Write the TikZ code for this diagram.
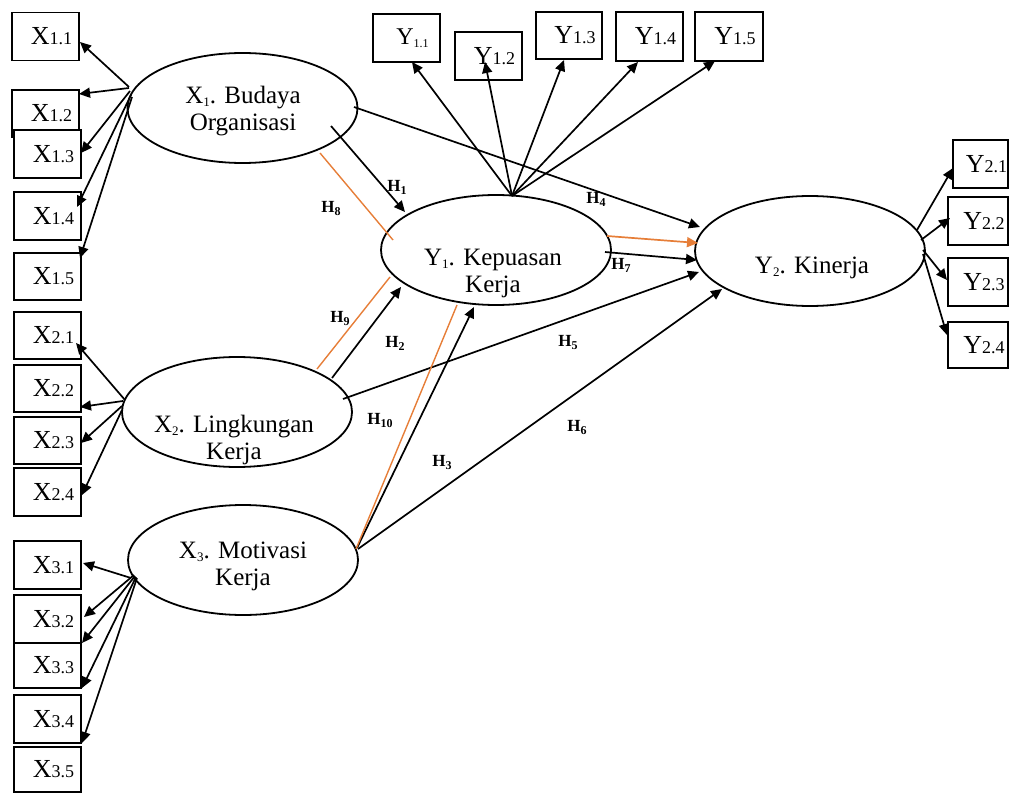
\documentclass[tikz,border=0pt]{standalone}
\usepackage{fontspec}
\setmainfont{Liberation Serif}
\usetikzlibrary{arrows.meta,calc,shapes.geometric}
\definecolor{pathorange}{RGB}{230,126,56}
\newcommand\bl[2]{{\fontsize{26}{26}\selectfont #1}{\fontsize{18}{18}\selectfont #2}}
\newcommand\blsub[2]{{\fontsize{24}{24}\selectfont #1}\raisebox{-3pt}{\fontsize{12}{12}\selectfont #2}}
\newcommand\ellsub[1]{\raisebox{-3pt}{\fontsize{13}{13}\selectfont #1}}
\newcommand\hsub[1]{\raisebox{-3pt}{\fontsize{12}{12}\selectfont\bfseries #1}}
\begin{document}
\begin{tikzpicture}[x=1pt,y=-1pt,
  ind/.style={draw, line width=1.8pt, fill=white, minimum width=67pt, minimum height=48pt, inner sep=0pt, execute at begin node={\hspace*{12pt}}},
  lat/.style={draw, ellipse, line width=1.8pt, minimum width=230pt, minimum height=110pt, inner sep=0pt},
  eltext/.style={font=\fontsize{25}{27}\selectfont, align=center, inner sep=0pt},
  arr/.style={line width=1.7pt, -{Triangle[length=11pt,width=10pt]}},
  oarr/.style={draw=pathorange, line width=1.7pt, -{Triangle[length=11pt,width=10pt]}},
  oline/.style={draw=pathorange, line width=1.4pt},
  hl/.style={font=\fontsize{17}{17}\selectfont\bfseries, inner sep=0pt}]
\useasboundingbox (0,0) rectangle (1011,794);

% latent variables
\node[lat] (x1) at (242.5,108) {};
\node[lat] (x2) at (237,412) {};
\node[lat] (x3) at (243,560) {};
\node[lat] (y1) at (496,250) {};
\node[lat] (y2) at (810,251) {};
\node[eltext] (x1t) at (243,111) {X\ellsub{1}. Budaya\\Organisasi};
\node[eltext] (x2t) at (234,440) {X\ellsub{2}. Lingkungan\\Kerja};
\node[eltext] (x3t) at (243,566) {X\ellsub{3}. Motivasi\\Kerja};
\node[eltext] (y1t) at (493,273) {Y\ellsub{1}. Kepuasan\\Kerja};
\node[eltext] (y2t) at (812,268) {Y\ellsub{2}. Kinerja};

% indicators X1
\node[ind] (x11) at (45.5,36.5) {\bl{X}{1.1}};
\node[ind, minimum height=47pt] (x12) at (45.5,113.5) {\bl{X}{1.2}};
\node[ind] (x13) at (47.5,154) {\bl{X}{1.3}};
\node[ind] (x14) at (47.5,216) {\bl{X}{1.4}};
\node[ind, minimum height=47pt] (x15) at (47.5,276.5) {\bl{X}{1.5}};
% indicators X2
\node[ind, minimum height=47pt] (x21) at (47.5,335.5) {\bl{X}{2.1}};
\node[ind, minimum height=47pt] (x22) at (47.5,388.5) {\bl{X}{2.2}};
\node[ind, minimum height=47pt] (x23) at (47.5,440.5) {\bl{X}{2.3}};
\node[ind] (x24) at (47.5,492) {\bl{X}{2.4}};
% indicators X3
\node[ind] (x31) at (47.5,565) {\bl{X}{3.1}};
\node[ind] (x32) at (47.5,619) {\bl{X}{3.2}};
\node[ind, minimum height=45pt] (x33) at (47.5,665.5) {\bl{X}{3.3}};
\node[ind] (x34) at (47.5,719) {\bl{X}{3.4}};
\node[ind, minimum height=45pt] (x35) at (47.5,769.5) {\bl{X}{3.5}};
% indicators Y1
\node[ind, execute at begin node={}] (y11) at (406.5,38) {\blsub{Y}{1.1}};
\node[ind] (y12) at (488.5,56) {\bl{Y}{1.2}};
\node[ind, minimum width=66pt, minimum height=47pt] (y13) at (569,35.5) {\bl{Y}{1.3}};
\node[ind, minimum height=49pt] (y14) at (649.5,36.5) {\bl{Y}{1.4}};
\node[ind, minimum width=68pt, minimum height=49pt] (y15) at (729,36.5) {\bl{Y}{1.5}};
% indicators Y2
\node[ind, minimum width=55pt] (y21) at (980.5,164) {\bl{Y}{2.1}};
\node[ind, minimum width=60pt] (y22) at (978,221) {\bl{Y}{2.2}};
\node[ind, minimum width=60pt] (y23) at (978,282) {\bl{Y}{2.3}};
\node[ind, minimum width=60pt, minimum height=46pt] (y24) at (978,345) {\bl{Y}{2.4}};

% loadings X1
\draw[arr] ($(x1)+(-113.5,-21)$) -- ($(x11)+(34.5,5.5)$);
\draw[arr] ($(x1)+(-113.5,-20)$) -- ($(x12)+(33.5,-19.5)$);
\draw[arr] ($(x1)+(-112.5,-17)$) -- ($(x13)+(33.5,-1)$);
\draw[arr] ($(x1)+(-111.5,-13)$) -- ($(x14)+(29.5,-9)$);
\draw[arr] ($(x1)+(-110.5,-11)$) -- ($(x15)+(32.5,-18.5)$);
% loadings X2
\draw[arr] ($(x2)+(-112,-12)$) -- ($(x21)+(28.5,7.5)$);
\draw[arr] ($(x2)+(-114,-11)$) -- ($(x22)+(32.5,18.5)$);
\draw[arr] ($(x2)+(-115,-6)$) -- ($(x23)+(33.5,2.5)$);
\draw[arr] ($(x2)+(-115,-2)$) -- ($(x24)+(34.5,3)$);
% loadings X3
\draw[arr] ($(x3)+(-112,18)$) -- ($(x31)+(35.5,-2)$);
\draw[arr] ($(x3)+(-109,15)$) -- ($(x32)+(36.5,-2)$);
\draw[arr] ($(x3)+(-108,16)$) -- ($(x33)+(34.5,-22.5)$);
\draw[arr] ($(x3)+(-107,17)$) -- ($(x34)+(34.5,-31)$);
\draw[arr] ($(x3)+(-106,18)$) -- ($(x35)+(34.5,-26.5)$);
% loadings Y1
\draw[arr] ($(y1)+(16,-54)$) -- ($(y11)+(5.5,24)$);
\draw[arr] ($(y1)+(16,-54)$) -- ($(y12)+(-3.5,6)$);
\draw[arr] ($(y1)+(16,-54)$) -- ($(y13)+(-5,24.5)$);
\draw[arr] ($(y1)+(16,-54)$) -- ($(y14)+(-11.5,25.5)$);
\draw[arr] ($(y1)+(16,-54)$) -- ($(y15)+(-14,24.5)$);
% loadings Y2
\draw[arr] ($(y2)+(107,-21)$) -- ($(y21)+(-27.5,4)$);
\draw[arr] ($(y2)+(111,-11)$) -- ($(y22)+(-28,-3)$);
\draw[arr] ($(y2)+(113,-1)$) -- ($(y23)+(-31,-2)$);
\draw[arr] ($(y2)+(113,3)$) -- ($(y24)+(-31,-10)$);

% structural paths
\draw[arr] ($(x1)+(88.5,18)$) -- ($(y1)+(-91,-38)$);
\draw[oline] ($(x1)+(77.5,45)$) -- ($(y1)+(-103,-10)$);
\draw[arr] ($(x1)+(111.5,-1)$) -- ($(y2)+(-110,-24)$);
\draw[oarr] ($(y1)+(111,-14)$) -- ($(y2)+(-112,-8)$);
\draw[arr] ($(y1)+(109,2)$) -- ($(y2)+(-113,9)$);
\draw[arr] ($(x2)+(106,-13)$) -- ($(y2)+(-111,21)$);
\draw[arr] ($(x3)+(115,-11)$) -- ($(y2)+(-88,38)$);
\draw[arr] ($(x2)+(95,-34)$) -- ($(y1)+(-95,37)$);
\draw[oline] ($(x2)+(80,-43)$) -- ($(y1)+(-106,27)$);
\draw[arr] ($(x3)+(114,-12)$) -- ($(y1)+(-22,57)$);
\draw[oline] ($(x3)+(113,-11)$) -- ($(y1)+(-39,55)$);

% hypothesis labels
\node[hl] (h1) at (397,187) {H\hsub{1}};
\node[hl] (h8) at (331,208) {H\hsub{8}};
\node[hl] (h4) at (596,199) {H\hsub{4}};
\node[hl] (h7) at (621,265) {H\hsub{7}};
\node[hl] (h9) at (340,318) {H\hsub{9}};
\node[hl] (h2) at (395,343) {H\hsub{2}};
\node[hl] (h5) at (568,342) {H\hsub{5}};
\node[hl] (h10) at (380,420) {H\hsub{10}};
\node[hl] (h3) at (442,462) {H\hsub{3}};
\node[hl] (h6) at (577,427) {H\hsub{6}};
\end{tikzpicture}
\end{document}
